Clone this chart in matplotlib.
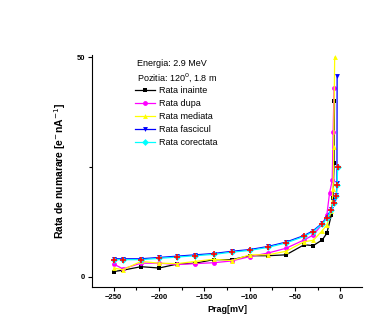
import numpy as np
import matplotlib
matplotlib.use("Agg")
import matplotlib.pyplot as plt
from matplotlib.ticker import MultipleLocator

plt.rcParams['font.family'] = ['Liberation Sans', 'DejaVu Sans']

# praguri comune
prag = [-250, -240, -220, -200, -180, -160, -140, -120, -100, -80, -60, -40, -30, -20, -15]

# valori pe serii (partea comuna)
inainte = [1.2, 1.5, 2.3, 2.0, 2.9, 3.1, 3.9, 3.9, 4.8, 4.8, 5.0, 7.3, 7.1, 8.4, 9.9]
dupa = [2.9, 1.8, 3.1, 3.1, 2.8, 3.0, 3.2, 3.6, 4.6, 5.4, 6.5, 8.4, 9.5, 12.0, 14.0]
mediata = [2.0, 1.6, 3.5, 3.1, 3.0, 3.5, 4.0, 3.7, 5.0, 5.0, 5.8, 8.0, 8.3, 10.5, 11.8]
fascicul = [4.1, 4.1, 4.1, 4.4, 4.7, 5.0, 5.3, 5.8, 6.2, 6.9, 7.9, 9.4, 10.5, 12.2, 13.5]
corectata = [3.9, 3.9, 3.9, 4.2, 4.5, 4.8, 5.1, 5.6, 6.0, 6.7, 7.7, 9.2, 10.3, 12.0, 13.3]

# capetele abrupte (aproape de 0 mV)
inainte_x = [-10, -8, -7, -6.5]
inainte_y = [14.0, 18.0, 26.0, 40.0]
dupa_x = [-12, -9, -8, -7]
dupa_y = [19.0, 22.0, 33.0, 43.0]
mediata_x = [-10, -8, -7.4, -6.3]
mediata_y = [15.0, 20.0, 29.5, 50.0]
fascicul_x = [-10, -7.4, -4.5, -3.8, -3.6]
fascicul_y = [15.5, 17.2, 18.6, 21.4, 45.7]
corectata_x = [-10, -7.5, -4.5, -3.6, -3.0]
corectata_y = [15.2, 16.8, 18.3, 20.9, 24.9]

fig = plt.figure(figsize=(3.82, 3.26), dpi=100)
ax = fig.add_axes([0.241, 0.12, 0.707, 0.711])

series = [
    (inainte, inainte_x, inainte_y, "black", "s", "Rata inainte"),
    (dupa, dupa_x, dupa_y, "#FF00FF", "o", "Rata dupa"),
    (mediata, mediata_x, mediata_y, "#FFFF00", "^", "Rata mediata"),
    (fascicul, fascicul_x, fascicul_y, "#0000FF", "v", "Rata fascicul"),
    (corectata, corectata_x, corectata_y, "#00FFFF", "D", "Rata corectata"),
]

for vals, tx, ty, col, mk, lab in series:
    xs = prag + tx
    ys = vals + ty
    ax.plot(xs, ys, color=col, marker=mk, markersize=3.5, linewidth=0.9,
            markeredgewidth=0, label=lab)

# erori (cruci rosii) pe rata corectata
ax.plot(prag + corectata_x, corectata + corectata_y, linestyle="none",
        marker="+", color="red", markersize=5, markeredgewidth=1.2, zorder=5)

ax.set_xlim(-274, 24)
ax.set_ylim(-2.3, 50.5)
ax.xaxis.set_major_locator(MultipleLocator(50))
ax.xaxis.set_minor_locator(MultipleLocator(25))
ax.set_yticks([0, 50])
ax.set_yticks([25], minor=True)

for s in ["top", "right"]:
    ax.spines[s].set_visible(False)
ax.spines["left"].set_linewidth(0.8)
ax.spines["bottom"].set_linewidth(0.8)
ax.tick_params(which="major", direction="out", length=3, width=0.8, labelsize=5.5, pad=2)
ax.tick_params(which="minor", direction="out", length=2, width=0.8)
for t in ax.get_xticklabels() + ax.get_yticklabels():
    t.set_fontweight("bold")

ax.set_xlabel("Prag[mV]", fontsize=6.5, fontweight="bold", labelpad=3)
ax.set_ylabel(r"Rata de numarare [e$^{-}$nA$^{-1}$]", fontsize=7.5, fontweight="bold", labelpad=6)

ax.text(0.165, 0.965, "Energia: 2.9 MeV", transform=ax.transAxes, fontsize=6.5, va="center")
ax.text(0.165, 0.905, r"Pozitia: 120$^{0}$, 1.8 m", transform=ax.transAxes, fontsize=6.5, va="center")
ax.legend(loc="upper left", bbox_to_anchor=(0.14, 0.89), frameon=False, fontsize=6.5,
          handlelength=2.2, handletextpad=0.4, labelspacing=0.45, borderpad=0.1)

fig.savefig("out.png", dpi=100)
